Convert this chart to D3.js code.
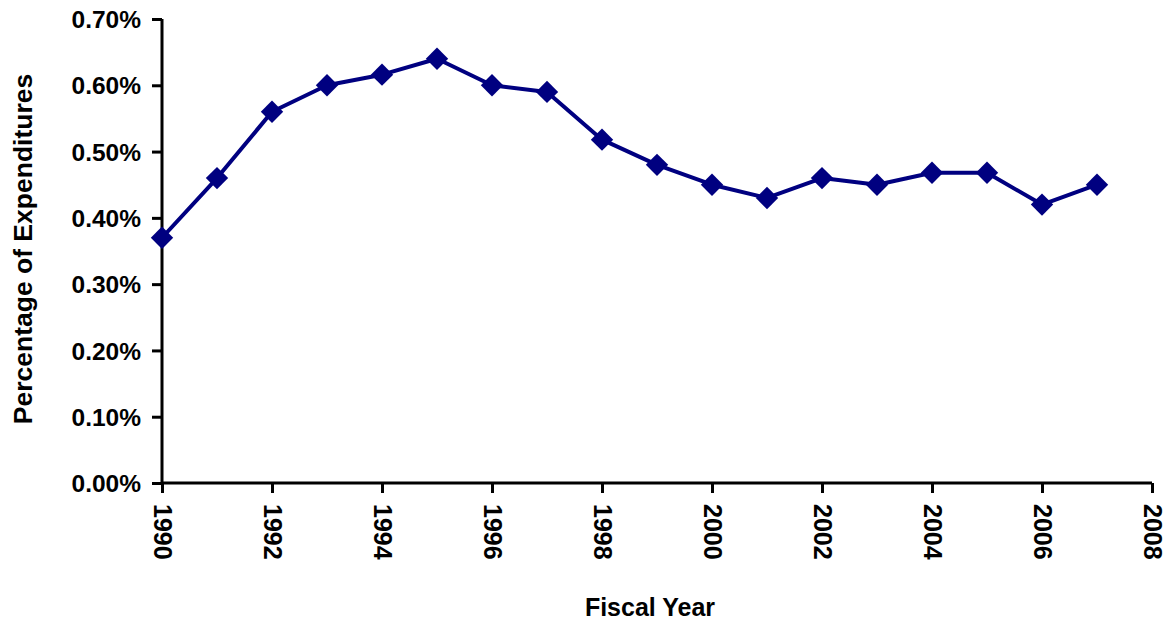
<!DOCTYPE html>
<html>
<head>
<meta charset="utf-8">
<script src="https://cdn.jsdelivr.net/npm/d3@7"></script>
<style>
  html, body { margin: 0; padding: 0; background: #fff; }
  svg { display: block; }
  text { font-family: "Liberation Sans", Arial, sans-serif; font-weight: bold; fill: #000; }
</style>
</head>
<body>
<svg id="chart" width="1165" height="621"></svg>
<script>
const years = [1990,1991,1992,1993,1994,1995,1996,1997,1998,1999,2000,2001,2002,2003,2004,2005,2006,2007];
const values = [0.37,0.46,0.56,0.60,0.616,0.64,0.60,0.59,0.518,0.48,0.45,0.43,0.46,0.45,0.468,0.468,0.42,0.45];
const xTicks = [1990,1992,1994,1996,1998,2000,2002,2004,2006,2008];
const yTicks = [0,0.1,0.2,0.3,0.4,0.5,0.6,0.7];
const xTitle = "Fiscal Year";
const yTitle = "Percentage of Expenditures";

const svg = d3.select("#chart");
const mLeft = 162, mRight = 1152, mTop = 19, mBottom = 483;

const x = d3.scaleLinear().domain([1990, 2008]).range([mLeft, mRight]);
const y = d3.scaleLinear().domain([0, 0.7]).range([mBottom, mTop]);

// Y axis
const yAxis = d3.axisLeft(y).tickValues(yTicks).tickSize(10).tickPadding(11)
  .tickFormat(d => d.toFixed(2) + "%");
const gy = svg.append("g").attr("transform", `translate(${mLeft},0)`).call(yAxis);
gy.select(".domain").attr("stroke", "#000").attr("stroke-width", 3).attr("d", `M0,${mTop}V${mBottom}`);
gy.selectAll(".tick line").attr("stroke", "#000").attr("stroke-width", 3);
gy.selectAll(".tick text").style("font-size", "24.5px").attr("dy", "0.35em");

// X axis
const xAxis = d3.axisBottom(x).tickValues(xTicks).tickSize(10).tickFormat(d3.format("d"));
const gx = svg.append("g").attr("transform", `translate(0,${mBottom})`).call(xAxis);
gx.select(".domain").attr("stroke", "#000").attr("stroke-width", 3).attr("d", `M${mLeft},0H${mRight}`);
gx.selectAll(".tick line").attr("stroke", "#000").attr("stroke-width", 3);
gx.selectAll(".tick text")
  .style("font-size", "25px")
  .attr("text-anchor", "start")
  .attr("transform", "translate(0,21) rotate(90)")
  .attr("x", 0).attr("y", 0).attr("dy", "0.35em");

// line
const line = d3.line().x((d, i) => x(years[i])).y(d => y(d));
svg.append("path").datum(values)
  .attr("d", line)
  .attr("fill", "none")
  .attr("stroke", "#000080")
  .attr("stroke-width", 4)
  .attr("stroke-linejoin", "round");

// markers
const sym = d3.symbol().type(d3.symbolSquare).size(250);
svg.selectAll(".mk").data(values).enter().append("path")
  .attr("class", "mk")
  .attr("d", sym)
  .attr("transform", (d, i) => `translate(${x(years[i])},${y(d)}) rotate(45)`)
  .attr("fill", "#000080");

// titles
svg.append("text").attr("x", 650).attr("y", 616).attr("text-anchor", "middle")
  .style("font-size", "25px").text(xTitle);
svg.append("text").attr("transform", "translate(32,249) rotate(-90)").attr("text-anchor", "middle")
  .style("font-size", "26.5px").text(yTitle);
</script>
</body>
</html>
